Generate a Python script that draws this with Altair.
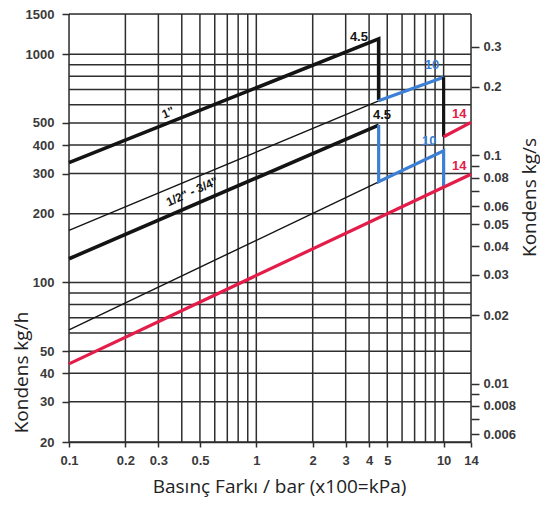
import altair as alt
import pandas as pd

# ---------------- data ----------------
X_DOMAIN = [0.1, 14]
Y_DOMAIN = [20, 1500]

X_GRID = [0.1, 0.2, 0.3, 0.4, 0.5, 0.6, 0.7, 0.8, 0.9, 1, 2, 3, 4, 5, 6, 7, 8, 9, 10, 14]
Y_GRID = [20, 30, 40, 50, 60, 70, 80, 90, 100, 200, 300, 400, 500, 600, 700, 800, 900, 1000, 1500]
X_TICKS = [0.1, 0.2, 0.3, 0.5, 1, 2, 3, 4, 5, 10, 14]
Y_TICKS = [20, 30, 40, 50, 100, 200, 300, 400, 500, 1000, 1500]
KGS_TICKS = [0.3, 0.2, 0.1, 0.09, 0.08, 0.07, 0.06, 0.05, 0.04, 0.03, 0.02, 0.01, 0.009, 0.008, 0.007, 0.006]
KGS_UNLABELLED = [0.09, 0.07, 0.009, 0.007]

# curves: pressure difference (bar) -> condensate (kg/h)
ONE_INCH_P = [0.1, 4.5, 4.5]
ONE_INCH_V = [335, 1167, 630]
HALF_INCH_P = [0.1, 4.5]
HALF_INCH_V = [127, 489]
THIN_UPPER_P = [0.1, 4.5]
THIN_UPPER_V = [169, 625]
THIN_LOWER_P = [0.1, 4.5]
THIN_LOWER_V = [62, 276]
BLUE_UPPER_P = [4.5, 10]
BLUE_UPPER_V = [625, 793]
BLACK_DROP_P = [10, 10]
BLACK_DROP_V = [793, 435]
RED_UPPER_P = [10, 14]
RED_UPPER_V = [435, 503]
BLUE_LOWER_P = [4.5, 4.5, 10, 10]
BLUE_LOWER_V = [489, 276, 377, 261]
RED_LOWER_P = [0.1, 14]
RED_LOWER_V = [44, 298]

# annotations
NUM_TEXT = ["4.5", "4.5", "10", "10", "14", "14"]
NUM_P = [3.53, 4.69, 8.67, 8.37, 12.1, 12.1]
NUM_V = [1190, 540, 900, 415, 548, 325]
NUM_KIND = ["k", "k", "b", "b", "r", "r"]

SIZE_TEXT = ['1"', '1/2" - 3/4"']
SIZE_P = [0.338, 0.454]
SIZE_V = [555, 250]
SIZE_ANGLE = [337, 336]

# ---------------- styling ----------------
BLACK = "#141414"
BLUE = "#3c7fd4"
RED = "#e31c4a"
GRID = "#2e2e2e"
LABEL = "#3a3a3a"
COLOR_OF = {"k": BLACK, "b": BLUE, "r": RED}

series = [
    ("one_inch", ONE_INCH_P, ONE_INCH_V, BLACK, 3.6),
    ("half_inch", HALF_INCH_P, HALF_INCH_V, BLACK, 3.6),
    ("thin_upper", THIN_UPPER_P, THIN_UPPER_V, BLACK, 1.4),
    ("thin_lower", THIN_LOWER_P, THIN_LOWER_V, BLACK, 1.4),
    ("blue_upper", BLUE_UPPER_P, BLUE_UPPER_V, BLUE, 3.2),
    ("black_drop", BLACK_DROP_P, BLACK_DROP_V, BLACK, 3.2),
    ("red_upper", RED_UPPER_P, RED_UPPER_V, RED, 3.2),
    ("blue_lower", BLUE_LOWER_P, BLUE_LOWER_V, BLUE, 3.2),
    ("red_lower", RED_LOWER_P, RED_LOWER_V, RED, 3.2),
]
rows = []
for name, ps, vs, col, w in series:
    for i, (p, v) in enumerate(zip(ps, vs)):
        rows.append({"series": name, "order": i, "p": p, "v": v, "col": col, "w": w})
lines_df = pd.DataFrame(rows)

vgrid_df = pd.DataFrame({"p": X_GRID, "v0": Y_DOMAIN[0], "v1": Y_DOMAIN[1]})
hgrid_df = pd.DataFrame({"v": Y_GRID, "p0": X_DOMAIN[0], "p1": X_DOMAIN[1]})
num_df = pd.DataFrame({"t": NUM_TEXT, "p": NUM_P, "v": NUM_V,
                       "col": [COLOR_OF[k] for k in NUM_KIND]})
size_df = pd.DataFrame({"t": SIZE_TEXT, "p": SIZE_P, "v": SIZE_V, "a": SIZE_ANGLE})
kgs_df = pd.DataFrame({"kgs": KGS_TICKS, "p": 1.0})

W, H = 402, 428
xs = alt.Scale(type="log", domain=X_DOMAIN, nice=False)
ys = alt.Scale(type="log", domain=Y_DOMAIN, nice=False)

FONT_T = "Open Sans"
FONT_L = "Liberation Sans"

x_axis = alt.Axis(values=X_TICKS, format="~g", grid=False, tickSize=5, tickColor=GRID,
                  tickWidth=1.5, domainColor=GRID, domainWidth=1.5,
                  labelFont=FONT_L, labelFontSize=13, labelFontWeight="bold",
                  labelColor=LABEL, labelPadding=7, labelFlush=False,
                  title="Basınç Farkı / bar (x100=kPa)", titleFont=FONT_T,
                  titleFontSize=19, titleFontWeight="normal", titleColor="#222222",
                  titleX=210, titleY=44, titleBaseline="middle", titleAnchor="middle")
y_axis = alt.Axis(values=Y_TICKS, format="d", grid=False, tickSize=7, tickColor=GRID,
                  tickWidth=1.5, domain=False,
                  labelFont=FONT_L, labelFontSize=13, labelFontWeight="bold",
                  labelColor=LABEL, labelPadding=8, labelFlush=False,
                  title="Kondens kg/h", titleFont=FONT_T, titleFontSize=19,
                  titleFontWeight="normal", titleColor="#222222",
                  titleAngle=270, titleX=-48, titleY=358, titleBaseline="middle",
                  titleAlign="center")


def X(field):
    return alt.X(field, scale=xs, axis=x_axis)


def Y(field):
    return alt.Y(field, scale=ys, axis=y_axis)


vgrid = alt.Chart(vgrid_df).mark_rule(color=GRID, strokeWidth=1.5).encode(
    x=X("p:Q"), y=Y("v0:Q"), y2="v1:Q",
)
hgrid = alt.Chart(hgrid_df).mark_rule(color=GRID, strokeWidth=1.5).encode(
    y=Y("v:Q"), x=X("p0:Q"), x2="p1:Q",
)
curves = alt.Chart(lines_df).mark_line(strokeJoin="miter", strokeCap="butt").encode(
    x=X("p:Q"), y=Y("v:Q"),
    detail="series:N",
    order="order:Q",
    color=alt.Color("col:N", scale=None),
    strokeWidth=alt.StrokeWidth("w:Q", scale=None),
)
nums = alt.Chart(num_df).mark_text(font=FONT_L, fontSize=13, fontWeight="bold",
                                   baseline="middle", align="center").encode(
    x=X("p:Q"), y=Y("v:Q"),
    text="t:N",
    color=alt.Color("col:N", scale=None),
)
sizes = alt.Chart(size_df).mark_text(font=FONT_L, fontSize=12, fontWeight="bold",
                                     baseline="middle", align="center", color=BLACK).encode(
    x=X("p:Q"), y=Y("v:Q"),
    text="t:N",
    angle=alt.Angle("a:Q", scale=None),
)

inner = alt.layer(vgrid, hgrid, curves, nums, sizes)

label_expr = "indexof(%s, datum.value) >= 0 ? '' : datum.label" % str(KGS_UNLABELLED)
right_axis = alt.Axis(values=KGS_TICKS, format="~g", grid=False, orient="right",
                      tickSize=8, tickColor=GRID, tickWidth=1.5, domain=False,
                      labelFont=FONT_L, labelFontSize=13, labelFontWeight="bold",
                      labelColor=LABEL, labelPadding=4, labelFlush=False,
                      labelExpr=label_expr,
                      title="Kondens kg/s", titleFont=FONT_T, titleFontSize=19,
                      titleFontWeight="normal", titleColor="#222222",
                      titleAngle=270, titleX=58, titleY=183, titleBaseline="middle",
                      titleAlign="center")
right = alt.Chart(kgs_df).mark_point(opacity=0).encode(
    x=X("p:Q"),
    y=alt.Y("kgs:Q", scale=alt.Scale(type="log", domain=[Y_DOMAIN[0] / 3600, Y_DOMAIN[1] / 3600], nice=False),
            axis=right_axis),
)

chart = alt.layer(inner, right).resolve_scale(y="independent").properties(
    width=W, height=H,
    autosize=alt.AutoSizeParams(type="none"),
    padding={"left": 61, "top": 6, "right": 69, "bottom": 58},
).configure_view(stroke=None).configure(background="white")

chart.save("out.html", embed_options={"renderer": "svg", "actions": False})
